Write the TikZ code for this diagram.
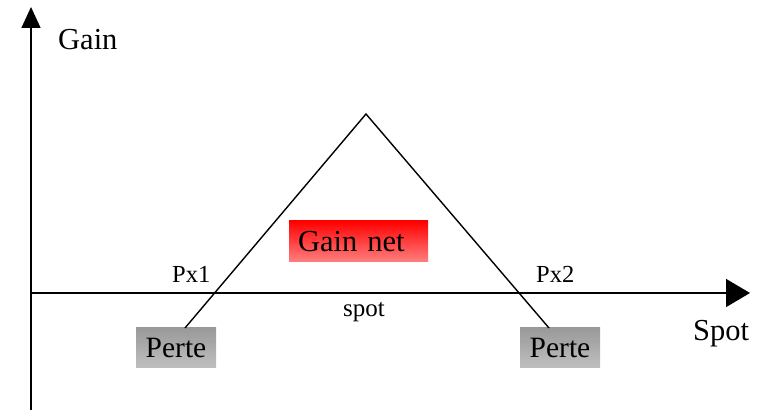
\documentclass[tikz,border=0pt]{standalone}
\usepackage{fontspec}
\setmainfont{Liberation Serif}
\usetikzlibrary{arrows.meta}
\begin{document}
\begin{tikzpicture}[x=1pt,y=1pt,
  axis/.style={line width=1.5pt},
  leg/.style={line width=1.4pt},
  bigtxt/.style={inner sep=0pt, anchor=base west, font=\fontsize{30.5}{30.5}\selectfont},
  midtxt/.style={inner sep=0pt, anchor=base west, font=\fontsize{25}{25}\selectfont},
  smalltxt/.style={inner sep=0pt, anchor=base west, font=\fontsize{24.5}{24.5}\selectfont},
  pertebox/.style={rectangle, minimum width=80pt, minimum height=40pt, inner sep=0pt,
    top color=black!40, bottom color=black!25, font=\fontsize{29.5}{29.5}\selectfont},
  gainbox/.style={rectangle, text width=121pt, align=left, inner xsep=9pt, inner ysep=0pt,
    minimum height=41pt, top color=red, bottom color=red!50!white, font=\fontsize{30.5}{30.5}\selectfont}
]
\useasboundingbox (0,0) rectangle (759,414);
% axes
\coordinate (vbot) at (31,4);
\coordinate (vtop) at (31,407);
\coordinate (hleft) at (30,121);
\coordinate (hright) at (750,121);
\draw[axis, -{Triangle[length=21pt,width=19pt]}] (vbot) -- (vtop);
\draw[axis, -{Triangle[length=24pt,width=28pt]}] (hleft) -- (hright);
% boxes
\node[pertebox] (perteL) at (176,66) {Perte};
\node[pertebox] (perteR) at (560,66) {Perte};
\node[gainbox] (gainnet) at (358.5,172.5) {Gain net};
% triangle
\coordinate (apex) at (366,300);
\coordinate (legL) at (185,86);
\coordinate (legR) at (549,86);
\draw[leg] (legL) -- (apex) -- (legR);
% labels
\node[bigtxt] (gain) at (58,364) {Gain};
\node[bigtxt] (spotbig) at (693,73) {Spot};
\node[smalltxt] (px1) at (172,131) {Px1};
\node[smalltxt] (px2) at (536,131) {Px2};
\node[midtxt] (spot) at (343,97) {spot};
\end{tikzpicture}
\end{document}
